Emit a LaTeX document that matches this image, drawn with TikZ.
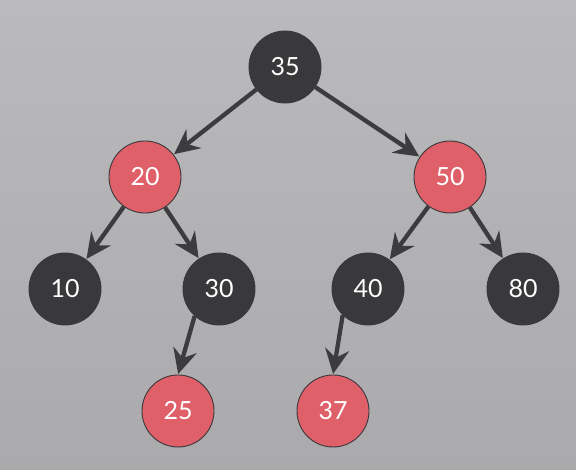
\documentclass[tikz,border=0pt]{standalone}
\usepackage{fontspec}
\setmainfont{Lato}
\usetikzlibrary{arrows.meta}
\definecolor{bgtop}{HTML}{BAB9BC}
\definecolor{bgbot}{HTML}{AAA9AB}
\definecolor{nodeblack}{HTML}{39383B}
\definecolor{nodered}{HTML}{E0606A}
\definecolor{edgecol}{HTML}{3C3B3E}
\tikzset{
  rbnode/.style={circle, minimum size=72pt, inner sep=0pt, draw=nodeblack,
    line width=0.9pt, text=white, font=\fontsize{25}{25}\selectfont},
  blacknode/.style={rbnode, fill=nodeblack},
  rednode/.style={rbnode, fill=nodered},
  edge/.style={draw=edgecol, line width=4.3pt, shorten >=0.5pt,
    -{Stealth[length=25pt, width=24pt, inset=8.5pt]}}
}
\begin{document}
\begin{tikzpicture}[x=1pt, y=1pt]
  % background
  \shade[top color=bgtop, bottom color=bgbot] (0,0) rectangle (576,470);
  \useasboundingbox (0,0) rectangle (576,470);

  % tree nodes
  \node[blacknode] (n35) at (285,403) {35};
  \node[rednode]   (n20) at (145,293) {20};
  \node[rednode]   (n50) at (450,293) {50};
  \node[blacknode] (n10) at (65,181)  {10};
  \node[blacknode] (n30) at (219,181) {30};
  \node[blacknode] (n40) at (368,181) {40};
  \node[blacknode] (n80) at (523,181) {80};
  \node[rednode]   (n25) at (178,59)  {25};
  \node[rednode]   (n37) at (333,59)  {37};

  % parent -> child links
  \draw[edge] (n35) -- (n20);
  \draw[edge] (n35) -- (n50);
  \draw[edge] (n20) -- (n10);
  \draw[edge] (n20) -- (n30);
  \draw[edge] (n50) -- (n40);
  \draw[edge] (n50) -- (n80);
  \draw[edge] (n30.228) -- (n25.north);
  \draw[edge] (n40.226) -- (n37.north);
\end{tikzpicture}
\end{document}
